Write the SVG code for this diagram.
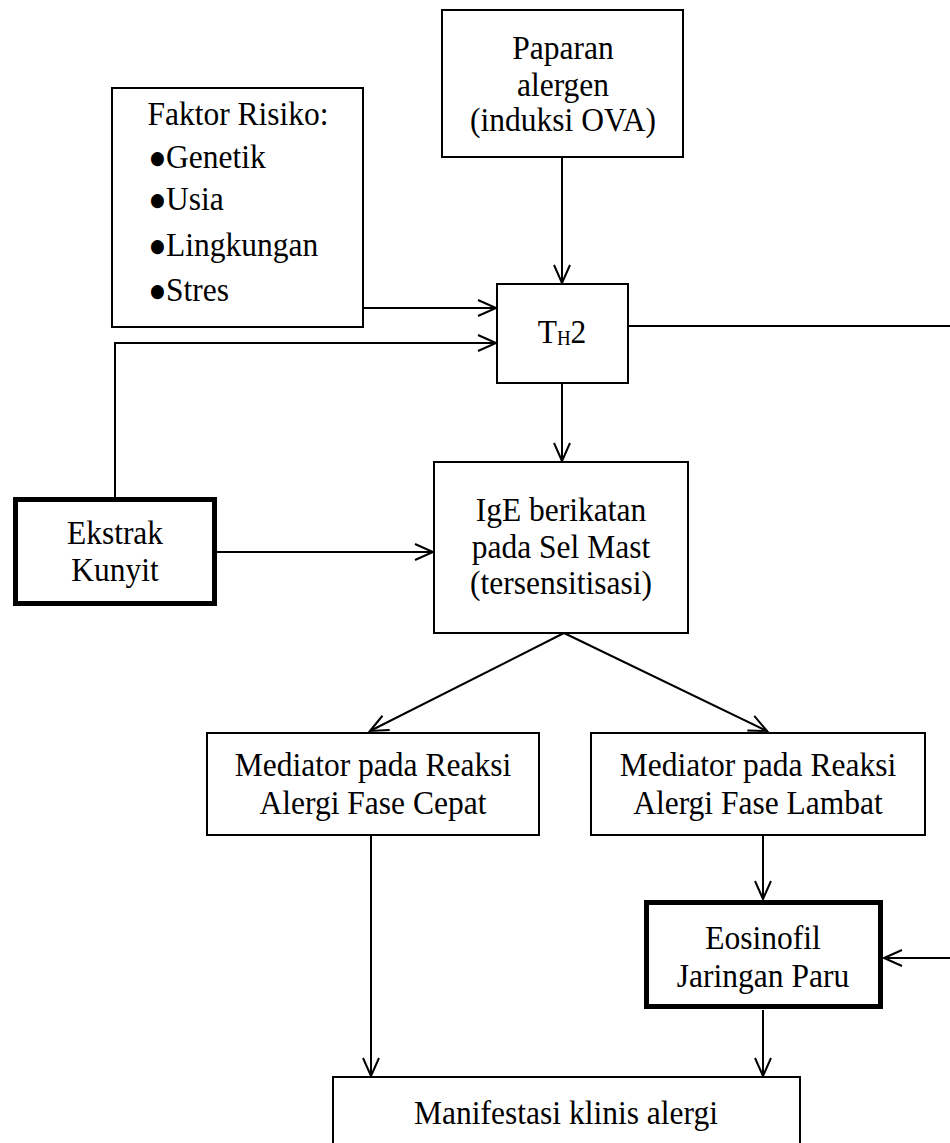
<svg xmlns="http://www.w3.org/2000/svg" width="950" height="1143" viewBox="0 0 950 1143">
<style>
text{font-family:"Liberation Serif","Times New Roman",serif;font-size:31.5px;fill:#000;transform-box:fill-box;transform-origin:50% 50%;transform:scaleY(1.1)}
.c{text-anchor:middle}
.b{font-family:"DejaVu Sans",sans-serif;font-size:17px}
.box{fill:#fff;stroke:#000;stroke-width:2}
.thick{fill:#fff;stroke:#000;stroke-width:5}
.ln{fill:none;stroke:#000;stroke-width:2}
</style>
<defs>
<marker id="ah" viewBox="-20 -10 22 20" refX="0" refY="0" markerWidth="22" markerHeight="20" markerUnits="userSpaceOnUse" orient="auto" overflow="visible">
<path d="M-18,-8 L0,0 L-18,8" fill="none" stroke="#000" stroke-width="2"/>
</marker>
</defs>
<rect width="950" height="1143" fill="#fff"/>
<g id="connectors">
<line class="ln" x1="562" y1="157" x2="562" y2="283" marker-end="url(#ah)"/>
<line class="ln" x1="363" y1="308" x2="496" y2="308" marker-end="url(#ah)"/>
<polyline class="ln" points="115,497 115,343 496,343" marker-end="url(#ah)"/>
<line class="ln" x1="628" y1="326" x2="950" y2="326"/>
<line class="ln" x1="562" y1="383" x2="562" y2="461" marker-end="url(#ah)"/>
<line class="ln" x1="217" y1="552" x2="433" y2="552" marker-end="url(#ah)"/>
<line class="ln" x1="564" y1="633" x2="370" y2="731" marker-end="url(#ah)"/>
<line class="ln" x1="564" y1="633" x2="767" y2="731" marker-end="url(#ah)"/>
<line class="ln" x1="371" y1="835" x2="371" y2="1076" marker-end="url(#ah)"/>
<line class="ln" x1="763" y1="835" x2="763" y2="899" marker-end="url(#ah)"/>
<line class="ln" x1="950" y1="958" x2="884" y2="958" marker-end="url(#ah)"/>
<line class="ln" x1="763" y1="1010" x2="763" y2="1076" marker-end="url(#ah)"/>
</g>
<g id="faktor">
<rect class="box" x="112" y="88" width="251" height="239"/>
<text class="c" x="238" y="124">Faktor Risiko:</text>
<text x="150" y="167"><tspan class="b" dy="-4">●</tspan><tspan x="166" dy="4">Genetik</tspan></text>
<text x="150" y="209"><tspan class="b" dy="-4">●</tspan><tspan x="166" dy="4">Usia</tspan></text>
<text x="150" y="255"><tspan class="b" dy="-4">●</tspan><tspan x="166" dy="4">Lingkungan</tspan></text>
<text x="150" y="300"><tspan class="b" dy="-4">●</tspan><tspan x="166" dy="4">Stres</tspan></text>
</g>
<g id="paparan">
<rect class="box" x="442" y="10" width="241" height="147"/>
<text class="c" x="563" y="58">Paparan</text>
<text class="c" x="563" y="95">alergen</text>
<text class="c" x="563" y="130">(induksi OVA)</text>
</g>
<g id="th2">
<rect class="box" x="497" y="284" width="131" height="99"/>
<text class="c" x="562" y="342">T<tspan font-size="19" dy="2">H</tspan><tspan dy="-2">2</tspan></text>
</g>
<g id="ekstrak">
<rect class="thick" x="15.5" y="499.5" width="199" height="104"/>
<text class="c" x="115" y="543">Ekstrak</text>
<text class="c" x="115" y="580">Kunyit</text>
</g>
<g id="ige">
<rect class="box" x="434" y="462" width="254" height="171"/>
<text class="c" x="561" y="520">IgE berikatan</text>
<text class="c" x="561" y="557">pada Sel Mast</text>
<text class="c" x="561" y="593">(tersensitisasi)</text>
</g>
<g id="med-cepat">
<rect class="box" x="207" y="733" width="332" height="102"/>
<text class="c" x="373" y="775">Mediator pada Reaksi</text>
<text class="c" x="373" y="813">Alergi Fase Cepat</text>
</g>
<g id="med-lambat">
<rect class="box" x="591" y="733" width="334" height="102"/>
<text class="c" x="758" y="775">Mediator pada Reaksi</text>
<text class="c" x="758" y="813">Alergi Fase Lambat</text>
</g>
<g id="eosinofil">
<rect class="thick" x="646.5" y="902.5" width="234" height="104"/>
<text class="c" x="763" y="948">Eosinofil</text>
<text class="c" x="763" y="986">Jaringan Paru</text>
</g>
<g id="manifestasi">
<rect class="box" x="333" y="1077" width="467" height="80" stroke-width="1.5"/>
<text class="c" x="566" y="1123">Manifestasi klinis alergi</text>
</g>
</svg>
